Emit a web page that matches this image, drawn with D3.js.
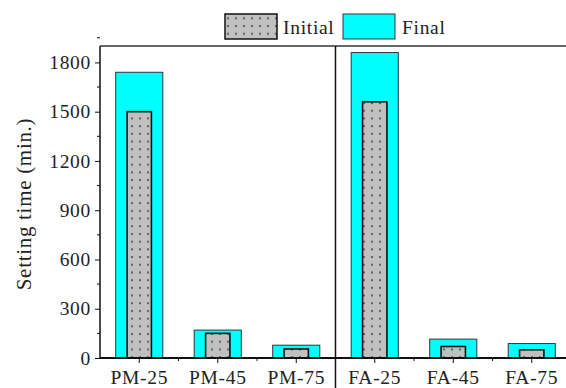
<!DOCTYPE html>
<html>
<head>
<meta charset="utf-8">
<script src="https://cdnjs.cloudflare.com/ajax/libs/d3/7.8.5/d3.min.js"></script>
<style>
  body { margin: 0; background: #fff; }
  text { font-family: "Liberation Serif", "Times New Roman", serif; fill: #222; }
</style>
</head>
<body>
<div id="chart"></div>
<script>
// values
var categories = ["PM-25", "PM-45", "PM-75", "FA-25", "FA-45", "FA-75"];
var initialVals = [1500, 150, 55, 1560, 70, 50];
var finalVals = [1740, 170, 78, 1860, 115, 88];
var yTicks = [0, 300, 600, 900, 1200, 1500, 1800];
var legendNames = ["Initial", "Final"];

var drawChart = function() {
  var W = 566, H = 388;
  var mLeft = 100, mTop = 46, mBottom = 358, mRight = 571;
  var serif = "'Liberation Serif', 'Times New Roman', serif";

  var svg = d3.select("#chart").append("svg")
    .attr("width", W)
    .attr("height", H);

  // dotted pattern for the initial bars
  var defs = svg.append("defs");
  var pat = defs.append("pattern")
    .attr("id", "dots")
    .attr("patternUnits", "userSpaceOnUse")
    .attr("width", 8)
    .attr("height", 7.7);
  pat.append("rect").attr("width", 8).attr("height", 7.7).attr("fill", "#c0c0c0");
  pat.append("circle").attr("cx", 4).attr("cy", 3).attr("r", 1.1).attr("fill", "#505050");

  var x = d3.scaleBand().domain(categories).range([mLeft, mRight]).padding(0);
  var y = d3.scaleLinear().domain([0, 1900]).range([mBottom, mTop]);

  var step = x.bandwidth();
  var finalW = step * 0.6, initW = step * 0.31;

  // final bars (behind)
  svg.selectAll(".fin").data(categories).enter().append("rect")
    .attr("class", "fin")
    .attr("x", function(d) { return x(d) + step / 2 - finalW / 2; })
    .attr("y", function(d, i) { return y(finalVals[i]); })
    .attr("width", finalW)
    .attr("height", function(d, i) { return y(0) - y(finalVals[i]); })
    .attr("fill", "#00ffff")
    .attr("stroke", "#333")
    .attr("stroke-width", 1);

  // initial bars (front)
  svg.selectAll(".ini").data(categories).enter().append("rect")
    .attr("class", "ini")
    .attr("x", function(d) { return x(d) + step / 2 - initW / 2; })
    .attr("y", function(d, i) { return y(initialVals[i]); })
    .attr("width", initW)
    .attr("height", function(d, i) { return y(0) - y(initialVals[i]); })
    .attr("fill", "url(#dots)")
    .attr("stroke", "#111")
    .attr("stroke-width", 1.6);

  // y axis
  var yAxis = d3.axisLeft(y).tickValues(yTicks).tickFormat(d3.format("d"))
    .tickSize(5).tickPadding(4);
  var gy = svg.append("g").attr("transform", "translate(" + mLeft + ",0)").call(yAxis);
  gy.select(".domain").attr("stroke", "#111").attr("stroke-width", 1.5)
    .attr("d", "M0," + mBottom + "V" + mTop);
  gy.selectAll(".tick line").attr("stroke", "#111");
  gy.selectAll("text").style("font-family", serif).style("font-size", "19.5px")
    .style("letter-spacing", "0.7px").attr("fill", "#222");
  // minor ticks
  svg.selectAll(".ymin").data(yTicks.map(function(v) { return v + 150; })).enter().append("line")
    .attr("x1", mLeft - 3).attr("x2", mLeft)
    .attr("y1", function(d) { return y(d); })
    .attr("y2", function(d) { return y(d); })
    .attr("stroke", "#111");

  // x axis
  var xAxis = d3.axisBottom(x).tickSize(5).tickPadding(7);
  var gx = svg.append("g").attr("transform", "translate(0," + mBottom + ")").call(xAxis);
  gx.select(".domain").attr("stroke", "#111").attr("stroke-width", 2)
    .attr("d", "M" + mLeft + ",0H" + mRight);
  gx.selectAll(".tick line").attr("stroke", "#111");
  gx.selectAll("text").style("font-family", serif).style("font-size", "19.5px")
    .style("letter-spacing", "0.7px").attr("fill", "#222");
  svg.selectAll(".xmin").data(categories.slice(1)).enter().append("line")
    .attr("x1", function(d) { return x(d); })
    .attr("x2", function(d) { return x(d); })
    .attr("y1", mBottom).attr("y2", mBottom + 3)
    .attr("stroke", "#111");

  // top frame
  svg.append("line")
    .attr("x1", mLeft).attr("x2", W)
    .attr("y1", mTop).attr("y2", mTop)
    .attr("stroke", "#333").attr("stroke-width", 1.5);

  // divider between PM and FA groups
  svg.append("line")
    .attr("x1", x("FA-25")).attr("x2", x("FA-25"))
    .attr("y1", mTop).attr("y2", H)
    .attr("stroke", "#111").attr("stroke-width", 1.5);

  // y label
  svg.append("text")
    .attr("transform", "translate(31," + ((mTop + mBottom) / 2 + 2) + ") rotate(-90)")
    .attr("text-anchor", "middle")
    .style("font-family", serif)
    .style("font-size", "21px")
    .style("letter-spacing", "0.7px")
    .text("Setting time (min.)");

  // legend
  var lg = svg.append("g");
  lg.append("rect").attr("x", 225).attr("y", 14).attr("width", 52).attr("height", 25)
    .attr("fill", "url(#dots)").attr("stroke", "#111").attr("stroke-width", 1.5);
  lg.append("text").attr("x", 283).attr("y", 34).style("font-family", serif).style("font-size", "19.5px")
    .style("letter-spacing", "0.7px").text(legendNames[0]);
  lg.append("rect").attr("x", 343).attr("y", 14).attr("width", 52).attr("height", 25)
    .attr("fill", "#00ffff").attr("stroke", "#333").attr("stroke-width", 1);
  lg.append("text").attr("x", 402).attr("y", 34).style("font-family", serif).style("font-size", "19.5px")
    .style("letter-spacing", "0.7px").text(legendNames[1]);
};

drawChart();
</script>
</body>
</html>
